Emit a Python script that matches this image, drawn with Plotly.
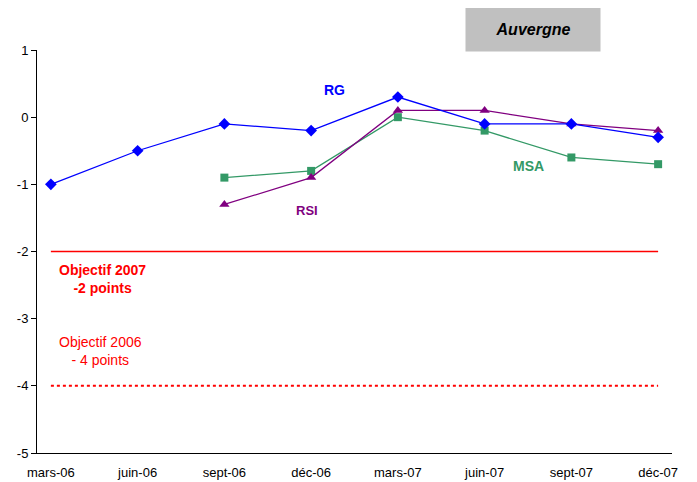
import plotly.graph_objects as go

categories = ["mars-06", "juin-06", "sept-06", "déc-06", "mars-07", "juin-07", "sept-07", "déc-07"]
rg = [-1.0, -0.5, -0.1, -0.2, 0.3, -0.1, -0.1, -0.3]
rsi = [None, None, -1.3, -0.9, 0.1, 0.1, -0.1, -0.2]
msa = [None, None, -0.9, -0.8, 0.0, -0.2, -0.6, -0.7]
objectif_2007 = -2
objectif_2006 = -4
y_ticks = [1, 0, -1, -2, -3, -4, -5]
y_tick_labels = ["1", "0", "-1", "-2", "-3", "-4", "-5"]

FONT = "Liberation Sans, Arial, sans-serif"
W, H = 697, 482
OFF = 8  # page body margin
# target plot area in the screenshot: x 37..672, y 50..453
L, T = 37 - OFF, 50 - OFF
R = W + OFF - 672
B = H + OFF - 453

fig = go.Figure()
fig.add_trace(go.Scatter(x=[categories[0], categories[-1]], y=[objectif_2007] * 2, mode="lines",
                         line=dict(color="#FF0000", width=1.5), showlegend=False))
fig.add_trace(go.Scatter(x=[categories[0], categories[-1]], y=[objectif_2006] * 2, mode="lines",
                         line=dict(color="#FF0000", width=2, dash="dot"), showlegend=False))
fig.add_trace(go.Scatter(x=categories, y=msa, mode="lines+markers",
                         line=dict(color="#339966", width=1.3),
                         marker=dict(symbol="square", size=8, color="#339966"), showlegend=False))
fig.add_trace(go.Scatter(x=categories, y=rsi, mode="lines+markers",
                         line=dict(color="#800080", width=1.3),
                         marker=dict(symbol="triangle-up", size=9, color="#800080"), showlegend=False))
fig.add_trace(go.Scatter(x=categories, y=rg, mode="lines+markers",
                         line=dict(color="#0000FF", width=1.3),
                         marker=dict(symbol="diamond", size=9, color="#0000FF"), showlegend=False))

ann = []
ann.append(dict(x=3.27, y=0.4, xref="x", yref="y", text="<b>RG</b>", showarrow=False,
                font=dict(family=FONT, size=14, color="#0000FF")))
ann.append(dict(x=2.95, y=-1.39, xref="x", yref="y", text="<b>RSI</b>", showarrow=False,
                font=dict(family=FONT, size=13, color="#800080")))
ann.append(dict(x=5.51, y=-0.72, xref="x", yref="y", text="<b>MSA</b>", showarrow=False,
                font=dict(family=FONT, size=14, color="#339966")))
ann.append(dict(x=0.07, y=-2.13, xref="x", yref="y", xanchor="left", yanchor="top", align="center",
                text="<b>Objectif 2007<br>-2 points</b>", showarrow=False,
                font=dict(family=FONT, size=14, color="#FF0000")))
ann.append(dict(x=0.07, y=-3.2, xref="x", yref="y", xanchor="left", yanchor="top", align="center",
                text="Objectif 2006<br>- 4 points", showarrow=False,
                font=dict(family=FONT, size=14, color="#FF0000")))
pw, ph = W - L - R, H - T - B
cx, cy = 533 - OFF, 29 - OFF
ann.append(dict(x=(cx - L) / pw, y=(H - B - cy) / ph, xref="paper", yref="paper",
                xanchor="center", yanchor="middle",
                text="<b><i>Auvergne</i></b>",
                showarrow=False, bgcolor="#C0C0C0", borderpad=13, width=108,
                font=dict(family=FONT, size=16, color="#000000")))

fig.update_layout(
    width=W, height=H,
    margin=dict(l=L, r=R, t=T, b=B, autoexpand=False),
    plot_bgcolor="white", paper_bgcolor="white",
    font=dict(family=FONT, size=13, color="#000000"),
    annotations=ann,
    xaxis=dict(type="category", categoryorder="array", categoryarray=categories,
               range=[-0.16, 7.16], showgrid=False, zeroline=False, automargin=False,
               showline=True, linecolor="#000000", linewidth=1,
               ticks="outside", ticklen=7, tickcolor="rgba(0,0,0,0)",
               tickfont=dict(family=FONT, size=13), fixedrange=True),
    yaxis=dict(range=[-5, 1], tickvals=y_ticks, ticktext=y_tick_labels, showgrid=False,
               zeroline=False, automargin=False,
               showline=True, linecolor="#000000", linewidth=1, ticks="outside",
               ticklen=5, tickcolor="#000000", tickfont=dict(family=FONT, size=13)),
)

fig.write_html("out.html")
